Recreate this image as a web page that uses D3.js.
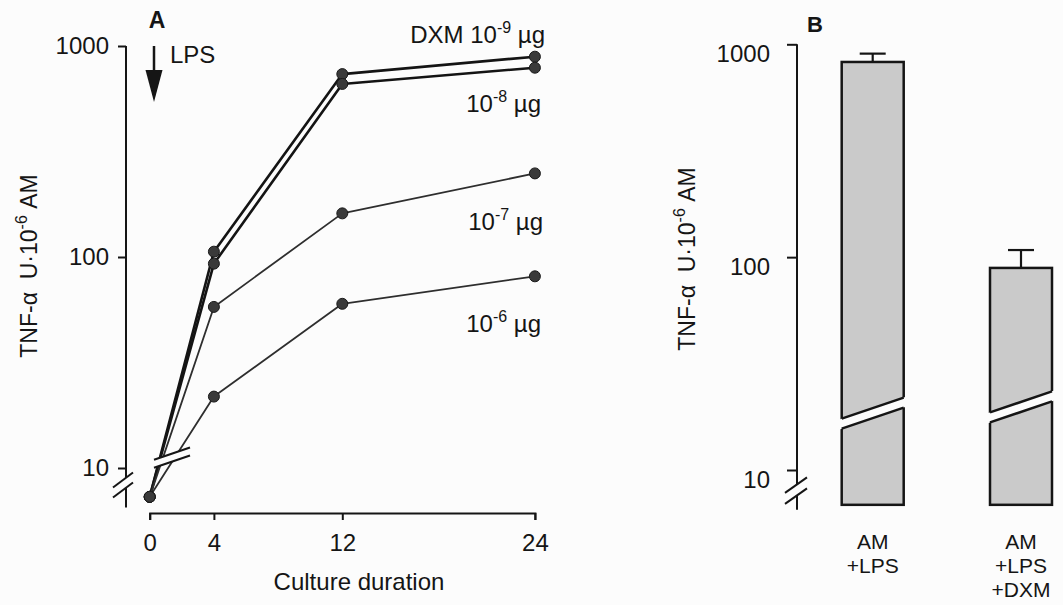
<!DOCTYPE html>
<html>
<head>
<meta charset="utf-8">
<script src="https://cdn.jsdelivr.net/npm/d3@7"></script>
<style>
  html, body { margin: 0; padding: 0; background: #fcfcfc; }
  svg { display: block; font-family: "Liberation Sans", Arial, Helvetica, sans-serif; }
</style>
</head>
<body>
<svg id="chart" width="1063" height="605"></svg>
<script>
// ---------- data ----------
const timepoints = [0, 4, 12, 24];
const dxm9 = [7.3, 106, 736, 890];
const dxm8 = [7.3, 93, 661, 789];
const dxm7 = [7.3, 58, 161, 249];
const dxm6 = [7.3, 21.8, 60, 81];
const seriesExponents = ["-9", "-8", "-7", "-6"];
const yTicks = [10, 100, 1000];
const xTicks = [0, 4, 12, 24];
const barCategories = ["AM+LPS", "AM+LPS+DXM"];
const barLabelLines = [["AM", "+LPS"], ["AM", "+LPS", "+DXM"]];
const barValues = [826, 89];
const barErrors = [78, 19];
const barBreakValues = [18.5, 19.8];

// ---------- setup ----------
const svg = d3.select("#chart");
const FONT = 24;
const INK = "#151515";
const BG = "#fcfcfc";

const xA = d3.scaleLinear().domain([0, 24]).range([149.7, 534.9]);
const yA = d3.scaleLog().domain([10, 1000]).range([468, 46]);
const yB = d3.scaleLog().domain([10, 1000]).range([470, 44.3]);
const xB = d3.scalePoint().domain(barCategories).range([872.7, 1021]);
const barWidth = 62;
const axisFloor = 6.5;

function drawBreak(g, cx, cy, halfLen, slope, gap, sw) {
  const dx = halfLen, dy = halfLen * slope;
  const p = [[cx - dx, cy - dy - gap / 2], [cx + dx, cy + dy - gap / 2],
             [cx + dx, cy + dy + gap / 2], [cx - dx, cy - dy + gap / 2]];
  g.append("polygon").attr("points", p.map(d => d.join(",")).join(" "))
    .attr("fill", BG);
  g.append("line").attr("x1", p[0][0]).attr("y1", p[0][1]).attr("x2", p[1][0]).attr("y2", p[1][1])
    .attr("stroke", INK).attr("stroke-width", sw);
  g.append("line").attr("x1", p[3][0]).attr("y1", p[3][1]).attr("x2", p[2][0]).attr("y2", p[2][1])
    .attr("stroke", INK).attr("stroke-width", sw);
}

function styleAxis(g) {
  g.selectAll("path, line").attr("stroke", INK).attr("stroke-width", 2);
  g.selectAll("text").attr("font-size", FONT).attr("fill", INK)
    .attr("font-family", "'Liberation Sans', Arial, sans-serif");
}

function yLabel(x, y, text) {
  const t = svg.append("text")
    .attr("transform", `translate(${x},${y}) rotate(-90)`)
    .attr("text-anchor", "middle").attr("font-size", 23).attr("fill", INK);
  t.append("tspan").text("TNF-α\u00a0\u00a0U·10");
  t.append("tspan").attr("font-size", 16).attr("dy", -10).text("-6");
  t.append("tspan").attr("dy", 10).text("\u00a0AM");
}

// ================= Panel A =================
const gA = svg.append("g");

// y axis
const axA = gA.append("g").attr("transform", "translate(126,0)")
  .call(d3.axisLeft(yA).tickValues(yTicks).tickFormat(d3.format("d"))
    .tickSize(8).tickPadding(9).tickSizeOuter(0));
axA.select(".domain").remove();
axA.append("line").attr("x1", 0).attr("x2", 0)
  .attr("y1", yA(1000)).attr("y2", yA(axisFloor));
styleAxis(axA);
drawBreak(gA, 123, yA(8.3), 10, -0.75, 10, 2);

// x axis
const axX = gA.append("g").attr("transform", "translate(0,513)")
  .call(d3.axisBottom(xA).tickValues(xTicks).tickSize(7).tickPadding(14).tickSizeOuter(7));
styleAxis(axX);

gA.append("text").attr("x", 359).attr("y", 590).attr("text-anchor", "middle")
  .attr("font-size", FONT).attr("fill", INK).text("Culture duration");

yLabel(37, 266);

// series
const series = [
  { vals: dxm9, w: 2.6, c: "#141414" },
  { vals: dxm8, w: 2.6, c: "#141414" },
  { vals: dxm7, w: 1.8, c: "#2e2e2e" },
  { vals: dxm6, w: 1.8, c: "#2e2e2e" }
];
const line = d3.line().x((d, i) => xA(timepoints[i])).y(d => yA(d));
series.forEach(s => {
  gA.append("path").datum(s.vals).attr("d", line)
    .attr("fill", "none").attr("stroke", s.c).attr("stroke-width", s.w)
    .attr("stroke-linejoin", "round");
});
// break across the lines
drawBreak(gA, 172, yA(11.2), 18, -0.34, 8, 2);
series.forEach(s => {
  gA.selectAll(null).data(s.vals).enter().append("circle")
    .attr("cx", (d, i) => xA(timepoints[i])).attr("cy", d => yA(d)).attr("r", 5.5)
    .attr("fill", "#3a3a3a").attr("stroke", "#1a1a1a").attr("stroke-width", 1);
});

// series labels
const labelPos = [[545, 43.3], [541, 111.7], [543, 230], [541, 332]];
seriesExponents.forEach((e, i) => {
  const t = gA.append("text").attr("x", labelPos[i][0]).attr("y", labelPos[i][1])
    .attr("text-anchor", "end").attr("font-size", FONT).attr("fill", INK);
  t.append("tspan").text(i === 0 ? "DXM 10" : "10");
  t.append("tspan").attr("font-size", 16).attr("dy", -10).text(e);
  t.append("tspan").attr("dy", 10).text("\u00a0µg");
});

// panel letter + LPS arrow
gA.append("text").attr("x", 157).attr("y", 28).attr("text-anchor", "middle")
  .attr("font-size", 23).attr("font-weight", "bold").attr("fill", INK).text("A");
const ax0 = xA(0) + 4.3;
gA.append("line").attr("x1", ax0).attr("x2", ax0).attr("y1", yA(1000)).attr("y2", 74)
  .attr("stroke", INK).attr("stroke-width", 2.5);
gA.append("polygon").attr("points", `${ax0 - 8.5},70 ${ax0 + 8.5},70 ${ax0},102`).attr("fill", INK);
gA.append("text").attr("x", 170).attr("y", 63).attr("font-size", FONT).attr("fill", INK).text("LPS");

// ================= Panel B =================
const gB = svg.append("g");
const axB = gB.append("g").attr("transform", "translate(797,0)")
  .call(d3.axisLeft(yB).tickValues(yTicks).tickFormat(d3.format("d"))
    .tickSize(10).tickPadding(17).tickSizeOuter(0));
axB.select(".domain").remove();
axB.append("line").attr("x1", 0).attr("x2", 0)
  .attr("y1", yB(1000)).attr("y2", yB(axisFloor));
styleAxis(axB);
axB.selectAll(".tick text").attr("dy", "0.72em");
drawBreak(gB, 796, yB(8.0), 11, -0.7, 11, 2);

yLabel(695, 259);

gB.append("text").attr("x", 815).attr("y", 32).attr("text-anchor", "middle")
  .attr("font-size", 22).attr("font-weight", "bold").attr("fill", INK).text("B");

const bottomY = yB(axisFloor) - 5;
barCategories.forEach((c, i) => {
  const cx = xB(c), x0 = cx - barWidth / 2, x1 = cx + barWidth / 2;
  const topY = yB(barValues[i]);
  // error bar
  const eY = yB(barValues[i] + barErrors[i]);
  gB.append("line").attr("x1", cx).attr("x2", cx).attr("y1", topY).attr("y2", eY)
    .attr("stroke", INK).attr("stroke-width", 2.2);
  gB.append("line").attr("x1", cx - 13).attr("x2", cx + 13).attr("y1", eY).attr("y2", eY)
    .attr("stroke", INK).attr("stroke-width", 2.2);
  gB.append("rect").attr("x", x0).attr("y", topY).attr("width", barWidth)
    .attr("height", bottomY - topY)
    .attr("fill", "#cacaca").attr("stroke", INK).attr("stroke-width", 2.5);
  // bar break: white band with rising edges
  const cy = yB(barBreakValues[i]);
  const slope = -0.34, gap = 10, hw = barWidth / 2, ext = hw + 3;
  const pts = [[cx - ext, cy - ext * slope - gap / 2],
               [cx + ext, cy + ext * slope - gap / 2],
               [cx + ext, cy + ext * slope + gap / 2],
               [cx - ext, cy - ext * slope + gap / 2]];
  gB.append("polygon").attr("points", pts.map(d => d.join(",")).join(" ")).attr("fill", BG);
  [-1, 1].forEach(sgn => {
    gB.append("line")
      .attr("x1", x0).attr("y1", cy - hw * slope + sgn * gap / 2)
      .attr("x2", x1).attr("y2", cy + hw * slope + sgn * gap / 2)
      .attr("stroke", INK).attr("stroke-width", 2.5);
  });
  // labels
  barLabelLines[i].forEach((s, k) => {
    gB.append("text").attr("x", cx).attr("y", 549 + k * 24).attr("text-anchor", "middle")
      .attr("font-size", 21).attr("fill", INK).text(s);
  });
});
</script>
</body>
</html>
